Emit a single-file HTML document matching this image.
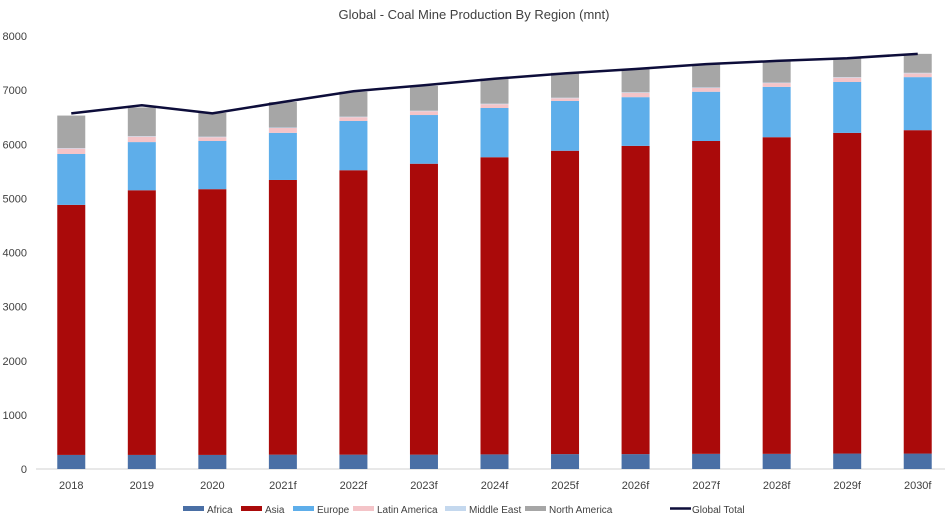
<!DOCTYPE html>
<html><head><meta charset="utf-8"><style>
body{margin:0;background:#fff;font-family:"Liberation Sans",sans-serif;}
svg text{font-family:"Liberation Sans",sans-serif;fill:#404040;}
</style></head><body>
<svg id="c" width="948" height="523">
<text x="474" y="19" text-anchor="middle" font-size="13">Global - Coal Mine Production By Region (mnt)</text>
<g id="axes"></g><g id="bars"></g><g id="line"></g><g id="legend"></g>
</svg>
<script>
const categories=["2018","2019","2020","2021f","2022f","2023f","2024f","2025f","2026f","2027f","2028f","2029f","2030f"];
const africa=[260,260,260,265,265,265,270,275,275,280,280,285,285];
const asia=[4620,4890,4910,5075,5255,5375,5490,5605,5695,5780,5850,5925,5975];
const europe=[940,890,890,870,910,900,910,920,900,910,930,940,980];
const latinAmerica=[100,100,70,90,70,70,70,50,80,70,70,80,70];
const middleEast=[10,10,10,10,10,10,10,10,10,10,10,10,10];
const northAmerica=[600,530,440,470,460,460,460,460,430,430,400,350,350];
const globalTotal=[6570,6720,6570,6780,6980,7090,7210,7310,7390,7480,7540,7590,7670];
const yTicks=[0,1000,2000,3000,4000,5000,6000,7000,8000];
const series=[["Africa",africa,"#4a6fa5"],["Asia",asia,"#aa0a0a"],["Europe",europe,"#5eaeea"],["Latin America",latinAmerica,"#f4c4c8"],["Middle East",middleEast,"#c4d8ee"],["North America",northAmerica,"#a6a6a6"]];
const NS="http://www.w3.org/2000/svg";
const x0=36,x1=953,yb=469,yt=36,step=(x1-x0)/categories.length;
const y=v=>yb-(v/8000)*(yb-yt);
const xc=i=>x0+step*(i+0.5);
function mk(p,t,a){const e=document.createElementNS(NS,t);for(const k in a)e.setAttribute(k,a[k]);p.appendChild(e);return e;}
const axes=document.getElementById('axes');
yTicks.forEach(t=>{const e=mk(axes,'text',{x:27,y:y(t)+4,'text-anchor':'end','font-size':'11'});e.textContent=t;

});
const ax=mk(axes,'line',{x1:x0,x2:945,y1:yb,y2:yb,stroke:'#d0d0d0'});


categories.forEach((c,i)=>{const e=mk(axes,'text',{x:xc(i),y:489,'text-anchor':'middle','font-size':'11'});e.textContent=c;

});
const bars=document.getElementById('bars');
categories.forEach((c,i)=>{let acc=0;series.forEach(s=>{const v=s[1][i];const r=mk(bars,'rect',{x:xc(i)-14,y:y(acc+v),width:28,height:y(acc)-y(acc+v),fill:s[2]});

acc+=v;});});
const ln=mk(document.getElementById('line'),'polyline',{points:globalTotal.map((v,i)=>xc(i)+','+y(v)).join(' '),fill:'none',stroke:'#0d0d3a','stroke-width':2.5});


const lg=document.getElementById('legend');
const lx=[183,241,293,353,445,525];
series.forEach((s,i)=>{const g=mk(lg,'g',{});


mk(g,'rect',{x:lx[i],y:506,width:21,height:5,fill:s[2]});const t=mk(g,'text',{x:lx[i]+24,y:513,'font-size':'10'});t.textContent=s[0];});
const g=mk(lg,'g',{});


mk(g,'line',{x1:670,x2:691,y1:508.5,y2:508.5,stroke:'#0d0d3a','stroke-width':2.5});
const t=mk(g,'text',{x:692,y:513,'font-size':'10'});t.textContent='Global Total';
</script>
</body></html>
